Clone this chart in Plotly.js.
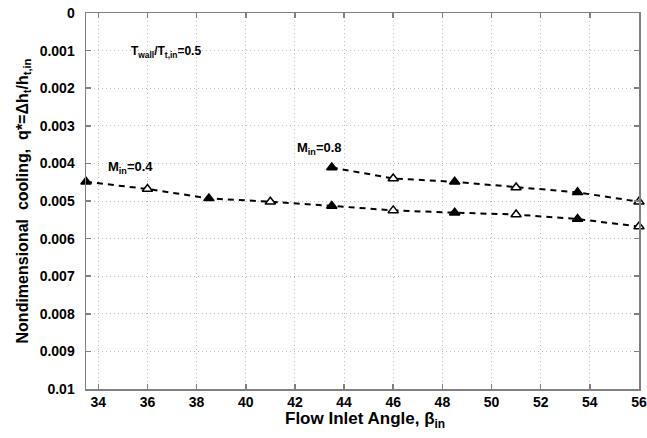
<!DOCTYPE html>
<html>
<head>
<meta charset="utf-8">
<script src="https://cdn.plot.ly/plotly-3.0.1.min.js"></script>
<style>html,body{margin:0;padding:0;background:#fff}#chart{width:647px;height:438px}</style>
</head>
<body>
<div id="chart"></div>
<script>
// Flow inlet angle (deg)
const angleLow = [33.5, 36, 38.5, 41, 43.5, 46, 48.5, 51, 53.5, 56];
const coolingLow = [0.00449, 0.00468, 0.00493, 0.00502, 0.00513, 0.00525, 0.00531, 0.00536, 0.00548, 0.00568];
const fillLow = ['black','white','black','white','black','white','black','white','black','white'];

const angleHigh = [43.5, 46, 48.5, 51, 53.5, 56];
const coolingHigh = [0.00411, 0.00440, 0.00449, 0.00464, 0.00477, 0.00502];
const fillHigh = ['black','white','black','white','black','white'];

const xTicks = [34, 36, 38, 40, 42, 44, 46, 48, 50, 52, 54, 56];
const yTicks = [0, 0.001, 0.002, 0.003, 0.004, 0.005, 0.006, 0.007, 0.008, 0.009, 0.01];
const yTickText = ['0','0.001','0.002','0.003','0.004','0.005','0.006','0.007','0.008','0.009','0.01'];

const font = {family: 'Liberation Sans, Arial, sans-serif', color: '#000'};

function series(x, y, fills) {
  return {
    x: x, y: y, type: 'scatter', mode: 'lines+markers',
    line: {color: '#000', width: 2, dash: '6px,5px'},
    marker: {symbol: 'triangle-up', size: 9, color: fills, line: {color: '#000', width: 1.5}},
    showlegend: false, cliponaxis: false
  };
}

const data = [series(angleLow, coolingLow, fillLow), series(angleHigh, coolingHigh, fillHigh)];

const axisCommon = {
  showline: true, linecolor: '#808080', linewidth: 1.5, mirror: 'ticks',
  ticks: 'inside', ticklen: 5, tickcolor: '#808080', tickwidth: 1.5,
  showgrid: true, gridcolor: '#bdbdbd', griddash: '1px,3px', gridwidth: 1,
  zeroline: false,
  tickfont: Object.assign({size: 14, weight: 'bold'}, font)
};

const layout = {
  width: 647, height: 438,
  margin: {l: 86, r: 8, t: 13, b: 49},
  paper_bgcolor: '#fff', plot_bgcolor: '#fff',
  xaxis: Object.assign({}, axisCommon, {
    range: [33.5, 56], tickvals: xTicks
  }),
  yaxis: Object.assign({}, axisCommon, {
    range: [0.01, 0], tickvals: yTicks, ticktext: yTickText, ticklabelstandoff: 7,
    title: {text: 'Nondimensional  cooling,  q*=Δh<sub>t</sub>/h<sub>t,in</sub>', standoff: 7,
            font: Object.assign({size: 16, weight: 'bold'}, font)}
  }),
  annotations: [
    {x: 0.505, y: -0.048, xref: 'paper', yref: 'paper', text: 'Flow Inlet Angle, β<sub>in</sub>', showarrow: false,
     xanchor: 'center', yanchor: 'top', font: Object.assign({size: 17, weight: 'bold'}, font)},
    {x: 34.3, y: 0.0041, xref: 'x', yref: 'y', text: 'M<sub>in</sub>=0.4', showarrow: false,
     xanchor: 'left', yanchor: 'middle', font: Object.assign({size: 13, weight: 'bold'}, font)},
    {x: 42.0, y: 0.0036, xref: 'x', yref: 'y', text: 'M<sub>in</sub>=0.8', showarrow: false,
     xanchor: 'left', yanchor: 'middle', font: Object.assign({size: 13, weight: 'bold'}, font)},
    {x: 36.75, y: 0.00105, xref: 'x', yref: 'y', text: 'T<sub>wall</sub>/T<sub>t,in</sub>=0.5', showarrow: false,
     xanchor: 'center', yanchor: 'middle', font: Object.assign({size: 12, weight: 'bold'}, font)}
  ]
};

Plotly.newPlot('chart', data, layout, {displayModeBar: false, staticPlot: true});
</script>
</body>
</html>
